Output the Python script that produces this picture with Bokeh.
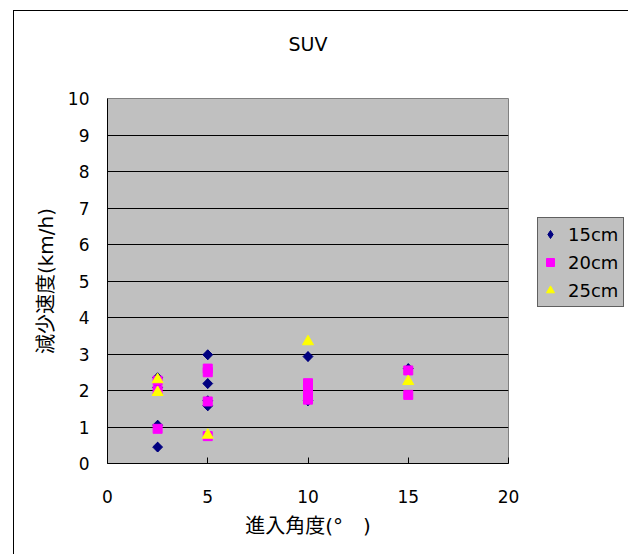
from bokeh.plotting import figure
from bokeh.models import Legend, LegendItem, FixedTicker, Title
from bokeh.embed import file_html
from bokeh.resources import INLINE
import math

title_text = "SUV"
x_label = "進入角度(°\u3000)"
y_label = "減少速度(km/h)"
series_names = ["15cm", "20cm", "25cm"]

x15 = [2.5, 2.5, 2.5, 2.5, 5, 5, 5, 5, 10, 10, 15]
y15 = [2.35, 2.08, 1.05, 0.45, 2.98, 2.19, 1.72, 1.58, 2.93, 1.72, 2.6]
x20 = [2.5, 2.5, 2.5, 5, 5, 5, 5, 10, 10, 10, 10, 15, 15]
y20 = [2.27, 2.0, 0.95, 2.6, 2.5, 1.7, 0.75, 2.2, 2.05, 1.9, 1.75, 2.55, 1.88]
x25 = [2.5, 2.5, 5, 10, 15]
y25 = [2.3, 1.95, 0.78, 3.34, 2.25]

x_ticks = [0, 5, 10, 15, 20]
y_ticks = [0, 1, 2, 3, 4, 5, 6, 7, 8, 9, 10]

FONT = "DejaVu Sans, Noto Sans CJK JP"

p = figure(width=614, height=543, frame_width=401, frame_height=365,
           output_backend="svg", toolbar_location=None,
           x_range=(0, 20), y_range=(0, 10),
           min_border_left=93, min_border_right=120, min_border_top=87, min_border_bottom=91,
           styles={"margin-left": "13px", "margin-top": "10px",
                   "border-left": "1px solid black", "border-top": "1px solid black"})

# spacer (closest to the frame) and the visible title above it
p.title.text = ""
p.add_layout(Title(text=" ", text_font=FONT, text_font_size="19px", standoff=20), "above")
p.add_layout(Title(text=title_text, align="center", text_font=FONT, text_font_size="19px",
                   text_font_style="normal", text_color="black", standoff=0), "above")

p.background_fill_color = "#C0C0C0"
p.border_fill_color = "white"
p.outline_line_color = "#808080"
p.outline_line_width = 1

p.xgrid.grid_line_color = None
p.ygrid.grid_line_color = "black"
p.ygrid.grid_line_width = 1

p.xaxis.ticker = FixedTicker(ticks=x_ticks)
p.yaxis.ticker = FixedTicker(ticks=y_ticks)
for ax in (p.xaxis[0], p.yaxis[0]):
    ax.axis_line_color = "black"
    ax.major_tick_line_color = "black"
    ax.minor_tick_line_color = None
    ax.major_label_text_font = FONT
    ax.major_label_text_font_size = "17px"
    ax.major_label_text_color = "black"
    ax.axis_label_text_font = FONT
    ax.axis_label_text_font_size = "20px"
    ax.axis_label_text_font_style = "normal"
    ax.axis_label_text_color = "black"

p.xaxis.major_tick_in = 6
p.xaxis.major_tick_out = 0
p.xaxis.major_label_standoff = 26
p.xaxis.axis_label = x_label
p.xaxis.axis_label_standoff = 8

p.yaxis.major_tick_in = 0
p.yaxis.major_tick_out = 0
p.yaxis.major_label_standoff = 18
p.yaxis.axis_label = y_label
p.yaxis.axis_label_standoff = 7

# diamond key glyph drawn under the rotated squares (same data, same colour)
r15_key = p.scatter(x15, y15, marker="diamond", size=9.5,
                    fill_color="#000080", line_color="#000080")
r15 = p.scatter(x15, y15, marker="square", angle=math.pi / 4, size=7,
                fill_color="#000080", line_color="#000080")
r20 = p.scatter(x20, y20, marker="square", size=9,
                fill_color="#FF00FF", line_color="#FF00FF")
r25 = p.scatter(x25, y25, marker="triangle", size=11,
                fill_color="#FFFF00", line_color="#FFFF00")

legend = Legend(items=[LegendItem(label=series_names[0], renderers=[r15_key]),
                       LegendItem(label=series_names[1], renderers=[r20]),
                       LegendItem(label=series_names[2], renderers=[r25])],
                location=(29, 156))
legend.background_fill_color = "#C0C0C0"
legend.background_fill_alpha = 1
legend.border_line_color = "black"
legend.border_line_width = 1
legend.label_text_font = FONT
legend.label_text_font_size = "18px"
legend.label_text_color = "black"
legend.glyph_width = 20
legend.glyph_height = 28
legend.label_height = 28
legend.label_width = 53
legend.spacing = 0
legend.padding = 2
legend.label_standoff = 8
legend.margin = 0
p.add_layout(legend, "right")

open("out.html", "w").write(file_html(p, INLINE))
